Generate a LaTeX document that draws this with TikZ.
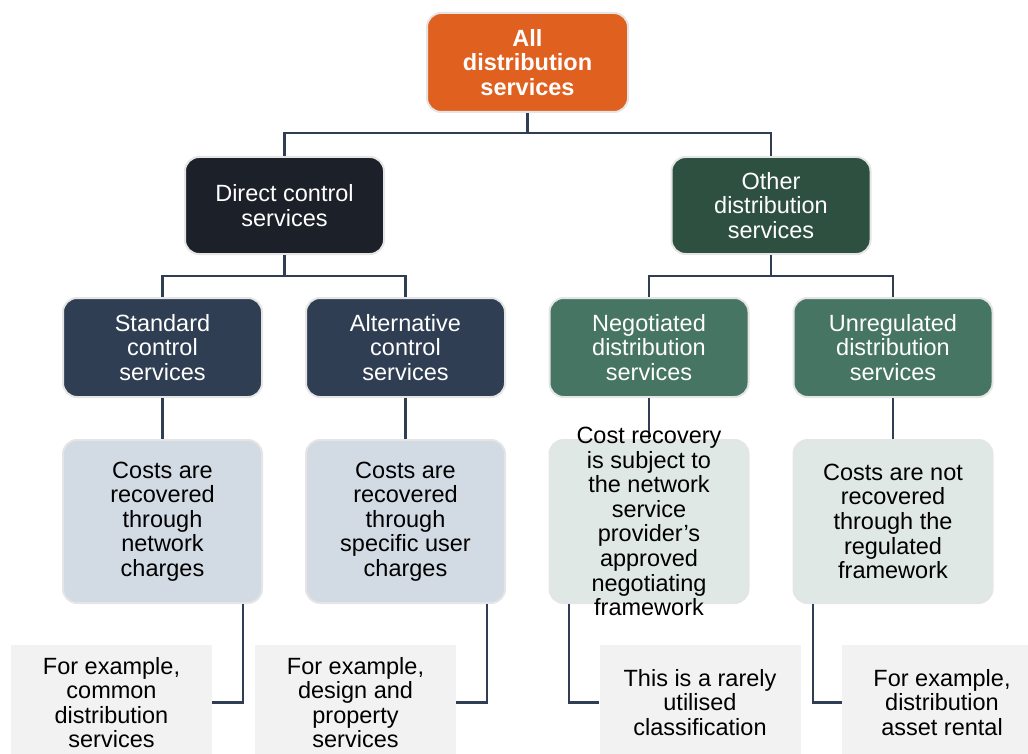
\documentclass[tikz,border=0pt]{standalone}
\usepackage{fontspec}
\setmainfont{Liberation Sans}
\definecolor{orangeC}{HTML}{E0601F}
\definecolor{dcC}{HTML}{1C2029}
\definecolor{othC}{HTML}{2E5040}
\definecolor{stdC}{HTML}{2F3E52}
\definecolor{negC}{HTML}{477563}
\definecolor{lblue}{HTML}{D2DAE4}
\definecolor{lgreen}{HTML}{DFE8E4}
\definecolor{lgray}{HTML}{F2F2F2}
\definecolor{lineC}{HTML}{2F3E52}
\tikzset{
  txt/.style={font=\fontsize{23.5}{24.6}\selectfont, align=center},
  rbox/.style={txt, rounded corners=14pt, draw=black!10, line width=2pt, minimum width=199pt, inner sep=0pt},
  lvlone/.style={rbox, minimum height=97pt, text=white},
  lvltwo/.style={rbox, minimum height=99pt, text=white},
  lvlthree/.style={rbox, minimum height=163pt, text=black},
  exbox/.style={txt, fill=lgray, minimum width=201pt, minimum height=115pt, inner sep=0pt, text=black},
  conn/.style={draw=lineC, line width=2.3pt}
}
\begin{document}
\begin{tikzpicture}[x=1pt,y=-1pt]
\useasboundingbox (0,0) rectangle (1028,754);
% top
\node[rbox, fill=orangeC, text=white, minimum width=201pt, minimum height=99pt, font=\fontsize{23.5}{24.6}\selectfont\bfseries] (top) at (527.5,62.5) {All\\distribution\\services};
% level 1
\node[lvlone, fill=dcC] (dc) at (284.5,205.5) {Direct control\\services};
\node[lvlone, fill=othC] (oth) at (771,205.5) {Other\\distribution\\services};
% level 2
\node[lvltwo, fill=stdC] (std) at (162.5,347.5) {Standard\\control\\services};
\node[lvltwo, fill=stdC] (alt) at (405.5,347.5) {Alternative\\control\\services};
\node[lvltwo, fill=negC] (neg) at (649,347.5) {Negotiated\\distribution\\services};
\node[lvltwo, fill=negC] (unr) at (893,347.5) {Unregulated\\distribution\\services};
% connectors levels
\coordinate (j0) at (527.5,133);
\coordinate (j1) at (284.5,276);
\coordinate (j2) at (771,276);
\draw[conn] (top.south) -- (j0);
\draw[conn] (j0) -| (dc.north);
\draw[conn] (j0) -| (oth.north);
\draw[conn] (dc.south) -- (j1);
\draw[conn] (j1) -| (std.north);
\draw[conn] (j1) -| (alt.north);
\draw[conn] (oth.south) -- (j2);
\draw[conn] (j2) -| (neg.north);
\draw[conn] (j2) -| (unr.north);
% level 3 connectors (behind boxes)
\coordinate (k1) at (162.5,440);
\coordinate (k2) at (405.5,440);
\coordinate (k3) at (649,440);
\coordinate (k4) at (893,440);
\draw[conn] (std.south) -- (k1);
\draw[conn] (alt.south) -- (k2);
\draw[conn] (neg.south) -- (k3);
\draw[conn] (unr.south) -- (k4);
% bottom example boxes
\node[exbox] (b1) at (111.5,702.5) {For example,\\common\\distribution\\services};
\node[exbox] (b2) at (355.5,702.5) {For example,\\design and\\property\\services};
\node[exbox] (b3) at (700,702.5) {This is a rarely\\utilised\\classification};
\node[exbox, minimum width=200pt] (b4) at (942,702.5) {For example,\\distribution\\asset rental};
% level 3 boxes
\node[lvlthree, fill=lblue] (c1) at (162.5,521.5) {Costs are\\recovered\\through\\network\\charges};
\node[lvlthree, fill=lblue] (c2) at (405.5,521.5) {Costs are\\recovered\\through\\specific user\\charges};
\node[lvlthree, fill=lgreen] (c3) at (649,521.5) {};
\node[lvlthree, fill=lgreen] (c4) at (893,521.5) {Costs are not\\recovered\\through the\\regulated\\framework};
\node[txt, text=black] (c3t) at (c3.center) {Cost recovery\\is subject to\\the network\\service\\provider’s\\approved\\negotiating\\framework};
% bottom connectors
\draw[conn] (c1.south -| 243,0) |- (b1.east);
\draw[conn] (c2.south -| 487,0) |- (b2.east);
\draw[conn] (c3.south -| 569,0) |- (b3.west);
\draw[conn] (c4.south -| 813,0) |- (b4.west);
\end{tikzpicture}
\end{document}
